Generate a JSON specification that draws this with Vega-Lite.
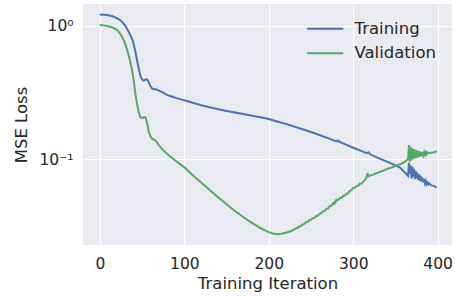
{
  "$schema": "https://vega.github.io/schema/vega-lite/v6.json",
  "width": 369,
  "height": 241,
  "autosize": {"type": "none"},
  "padding": {"left": 83, "top": 4, "right": 3, "bottom": 51},
  "background": "white",
  "config": {
    "view": {"fill": "#EAEAF2", "stroke": null},
    "font": "DejaVu Sans",
    "axis": {
      "domain": false,
      "ticks": false,
      "grid": true,
      "gridColor": "white",
      "gridWidth": 1.2,
      "labelColor": "#262626",
      "titleColor": "#262626",
      "labelFont": "DejaVu Sans",
      "titleFont": "DejaVu Sans",
      "labelFontSize": 15.5,
      "titleFontSize": 16.5,
      "titleFontWeight": "normal"
    },
    "legend": {
      "labelFont": "DejaVu Sans",
      "labelFontSize": 16.5,
      "labelColor": "#262626"
    }
  },
  "datasets": {
    "training": [
      {"it": 0, "loss": 1.21}, {"it": 5, "loss": 1.205}, {"it": 10, "loss": 1.195}, {"it": 15, "loss": 1.175},
      {"it": 20, "loss": 1.14}, {"it": 25, "loss": 1.09}, {"it": 30, "loss": 1.0}, {"it": 33, "loss": 0.93},
      {"it": 36, "loss": 0.85}, {"it": 39, "loss": 0.77}, {"it": 42, "loss": 0.64}, {"it": 45, "loss": 0.51},
      {"it": 48, "loss": 0.42}, {"it": 50, "loss": 0.395}, {"it": 52, "loss": 0.388}, {"it": 54, "loss": 0.397},
      {"it": 56, "loss": 0.396}, {"it": 58, "loss": 0.375}, {"it": 60, "loss": 0.352}, {"it": 62, "loss": 0.338},
      {"it": 64, "loss": 0.335}, {"it": 66, "loss": 0.335}, {"it": 68, "loss": 0.331}, {"it": 70, "loss": 0.326},
      {"it": 75, "loss": 0.315}, {"it": 80, "loss": 0.302}, {"it": 85, "loss": 0.295}, {"it": 90, "loss": 0.288},
      {"it": 95, "loss": 0.282}, {"it": 100, "loss": 0.277}, {"it": 110, "loss": 0.265}, {"it": 120, "loss": 0.254},
      {"it": 130, "loss": 0.245}, {"it": 140, "loss": 0.237}, {"it": 150, "loss": 0.23}, {"it": 160, "loss": 0.224},
      {"it": 170, "loss": 0.218}, {"it": 180, "loss": 0.212}, {"it": 190, "loss": 0.206}, {"it": 200, "loss": 0.2},
      {"it": 210, "loss": 0.192}, {"it": 220, "loss": 0.184}, {"it": 230, "loss": 0.176}, {"it": 240, "loss": 0.168},
      {"it": 250, "loss": 0.16}, {"it": 260, "loss": 0.152}, {"it": 270, "loss": 0.144}, {"it": 280, "loss": 0.136},
      {"it": 282, "loss": 0.138}, {"it": 284, "loss": 0.135}, {"it": 290, "loss": 0.13}, {"it": 300, "loss": 0.122},
      {"it": 310, "loss": 0.115}, {"it": 316, "loss": 0.111}, {"it": 318, "loss": 0.113}, {"it": 320, "loss": 0.109},
      {"it": 330, "loss": 0.102}, {"it": 340, "loss": 0.096}, {"it": 350, "loss": 0.09}, {"it": 355, "loss": 0.087},
      {"it": 360, "loss": 0.081}, {"it": 365, "loss": 0.075}, {"it": 366, "loss": 0.094}, {"it": 367, "loss": 0.078},
      {"it": 368, "loss": 0.09}, {"it": 369, "loss": 0.072}, {"it": 370, "loss": 0.088}, {"it": 371, "loss": 0.074},
      {"it": 372, "loss": 0.085}, {"it": 373, "loss": 0.071}, {"it": 374, "loss": 0.082}, {"it": 375, "loss": 0.072},
      {"it": 376, "loss": 0.079}, {"it": 377, "loss": 0.07}, {"it": 378, "loss": 0.077}, {"it": 379, "loss": 0.069},
      {"it": 380, "loss": 0.075}, {"it": 381, "loss": 0.068}, {"it": 382, "loss": 0.073}, {"it": 383, "loss": 0.067},
      {"it": 384, "loss": 0.071}, {"it": 385, "loss": 0.066}, {"it": 386, "loss": 0.069}, {"it": 387, "loss": 0.065},
      {"it": 388, "loss": 0.067}, {"it": 389, "loss": 0.065}, {"it": 390, "loss": 0.066}, {"it": 392, "loss": 0.064},
      {"it": 394, "loss": 0.0635}, {"it": 396, "loss": 0.063}, {"it": 398, "loss": 0.062}, {"it": 399, "loss": 0.0615}
    ],
    "validation": [
      {"it": 0, "loss": 1.01}, {"it": 5, "loss": 1.005}, {"it": 10, "loss": 0.99}, {"it": 15, "loss": 0.97},
      {"it": 20, "loss": 0.93}, {"it": 23, "loss": 0.89}, {"it": 26, "loss": 0.83}, {"it": 29, "loss": 0.76},
      {"it": 32, "loss": 0.67}, {"it": 35, "loss": 0.57}, {"it": 38, "loss": 0.47}, {"it": 40, "loss": 0.39},
      {"it": 42, "loss": 0.31}, {"it": 44, "loss": 0.26}, {"it": 46, "loss": 0.225}, {"it": 48, "loss": 0.206},
      {"it": 50, "loss": 0.203}, {"it": 52, "loss": 0.206}, {"it": 54, "loss": 0.206}, {"it": 56, "loss": 0.185},
      {"it": 58, "loss": 0.16}, {"it": 60, "loss": 0.148}, {"it": 62, "loss": 0.142}, {"it": 64, "loss": 0.14},
      {"it": 66, "loss": 0.138}, {"it": 68, "loss": 0.133}, {"it": 70, "loss": 0.127}, {"it": 75, "loss": 0.117},
      {"it": 80, "loss": 0.109}, {"it": 85, "loss": 0.103}, {"it": 90, "loss": 0.097}, {"it": 95, "loss": 0.092},
      {"it": 100, "loss": 0.087}, {"it": 110, "loss": 0.076}, {"it": 120, "loss": 0.067}, {"it": 130, "loss": 0.059},
      {"it": 140, "loss": 0.052}, {"it": 150, "loss": 0.046}, {"it": 160, "loss": 0.041}, {"it": 170, "loss": 0.0368},
      {"it": 180, "loss": 0.0334}, {"it": 190, "loss": 0.0306}, {"it": 200, "loss": 0.0285}, {"it": 205, "loss": 0.0278},
      {"it": 210, "loss": 0.0275}, {"it": 215, "loss": 0.0277}, {"it": 220, "loss": 0.0282}, {"it": 225, "loss": 0.0288},
      {"it": 230, "loss": 0.0298}, {"it": 232, "loss": 0.0304}, {"it": 234, "loss": 0.0306}, {"it": 236, "loss": 0.0314},
      {"it": 238, "loss": 0.0316}, {"it": 240, "loss": 0.0325}, {"it": 242, "loss": 0.0328}, {"it": 244, "loss": 0.0338},
      {"it": 246, "loss": 0.0339}, {"it": 248, "loss": 0.035}, {"it": 250, "loss": 0.0353}, {"it": 252, "loss": 0.0362},
      {"it": 254, "loss": 0.0364}, {"it": 256, "loss": 0.0376}, {"it": 258, "loss": 0.0378}, {"it": 260, "loss": 0.039},
      {"it": 262, "loss": 0.0394}, {"it": 264, "loss": 0.0408}, {"it": 266, "loss": 0.041}, {"it": 268, "loss": 0.0425},
      {"it": 270, "loss": 0.0427}, {"it": 272, "loss": 0.0445}, {"it": 274, "loss": 0.0446}, {"it": 276, "loss": 0.0468},
      {"it": 277, "loss": 0.0462}, {"it": 278, "loss": 0.048}, {"it": 279, "loss": 0.0474}, {"it": 280, "loss": 0.0498},
      {"it": 282, "loss": 0.0495}, {"it": 284, "loss": 0.0512}, {"it": 286, "loss": 0.0515}, {"it": 288, "loss": 0.0532},
      {"it": 290, "loss": 0.0535}, {"it": 292, "loss": 0.0553}, {"it": 294, "loss": 0.0556}, {"it": 296, "loss": 0.0582},
      {"it": 298, "loss": 0.0588}, {"it": 300, "loss": 0.061}, {"it": 302, "loss": 0.0613}, {"it": 304, "loss": 0.063},
      {"it": 306, "loss": 0.0636}, {"it": 308, "loss": 0.0656}, {"it": 310, "loss": 0.066}, {"it": 312, "loss": 0.0683},
      {"it": 314, "loss": 0.07}, {"it": 316, "loss": 0.074}, {"it": 317, "loss": 0.079}, {"it": 318, "loss": 0.0745},
      {"it": 320, "loss": 0.0755}, {"it": 322, "loss": 0.0763}, {"it": 324, "loss": 0.0768}, {"it": 326, "loss": 0.0782},
      {"it": 328, "loss": 0.0786}, {"it": 330, "loss": 0.0798}, {"it": 332, "loss": 0.0805}, {"it": 334, "loss": 0.0818},
      {"it": 336, "loss": 0.0822}, {"it": 338, "loss": 0.0838}, {"it": 340, "loss": 0.0843}, {"it": 342, "loss": 0.0856},
      {"it": 344, "loss": 0.086}, {"it": 346, "loss": 0.0873}, {"it": 348, "loss": 0.0879}, {"it": 350, "loss": 0.0893},
      {"it": 352, "loss": 0.0898}, {"it": 354, "loss": 0.0913}, {"it": 356, "loss": 0.0918}, {"it": 358, "loss": 0.0936},
      {"it": 360, "loss": 0.0945}, {"it": 362, "loss": 0.0972}, {"it": 364, "loss": 0.099}, {"it": 365, "loss": 0.1005},
      {"it": 366, "loss": 0.128}, {"it": 367, "loss": 0.096}, {"it": 368, "loss": 0.124}, {"it": 369, "loss": 0.098},
      {"it": 370, "loss": 0.121}, {"it": 371, "loss": 0.1}, {"it": 372, "loss": 0.119}, {"it": 373, "loss": 0.102},
      {"it": 374, "loss": 0.117}, {"it": 375, "loss": 0.103}, {"it": 376, "loss": 0.116}, {"it": 377, "loss": 0.104},
      {"it": 378, "loss": 0.115}, {"it": 379, "loss": 0.105}, {"it": 380, "loss": 0.114}, {"it": 381, "loss": 0.106},
      {"it": 382, "loss": 0.113}, {"it": 383, "loss": 0.107}, {"it": 384, "loss": 0.113}, {"it": 385, "loss": 0.108},
      {"it": 386, "loss": 0.113}, {"it": 387, "loss": 0.109}, {"it": 388, "loss": 0.113}, {"it": 390, "loss": 0.111},
      {"it": 392, "loss": 0.112}, {"it": 394, "loss": 0.112}, {"it": 396, "loss": 0.113}, {"it": 398, "loss": 0.114},
      {"it": 399, "loss": 0.115}
    ]
  },
  "encoding": {
    "x": {
      "field": "it", "type": "quantitative",
      "scale": {"domain": [-20, 417], "nice": false, "zero": false},
      "axis": {"values": [0, 100, 200, 300, 400], "title": "Training Iteration", "labelPadding": 11, "titlePadding": 4}
    },
    "y": {
      "field": "loss", "type": "quantitative",
      "scale": {"type": "log", "domain": [0.02283, 1.453], "nice": false},
      "axis": {
        "values": [0.1, 1],
        "labelExpr": "datum.value >= 0.5 ? '10⁰' : '10⁻¹'",
        "title": "MSE Loss",
        "labelPadding": 10,
        "titlePadding": 9
      }
    },
    "color": {
      "type": "nominal",
      "scale": {"domain": ["Training", "Validation"], "range": ["#4C72B0", "#55A868"]},
      "legend": {
        "title": null,
        "orient": "none",
        "legendX": 234,
        "legendY": 16.5,
        "symbolType": "M-3,0H3",
        "symbolSize": 144,
        "symbolStrokeWidth": 2,
        "labelOffset": 21,
        "rowPadding": 7.5,
        "padding": 0
      }
    }
  },
  "layer": [
    {
      "data": {"name": "training"},
      "mark": {"type": "line", "strokeWidth": 2, "clip": true},
      "encoding": {"color": {"datum": "Training"}}
    },
    {
      "data": {"name": "validation"},
      "mark": {"type": "line", "strokeWidth": 2, "clip": true},
      "encoding": {"color": {"datum": "Validation"}}
    }
  ]
}
